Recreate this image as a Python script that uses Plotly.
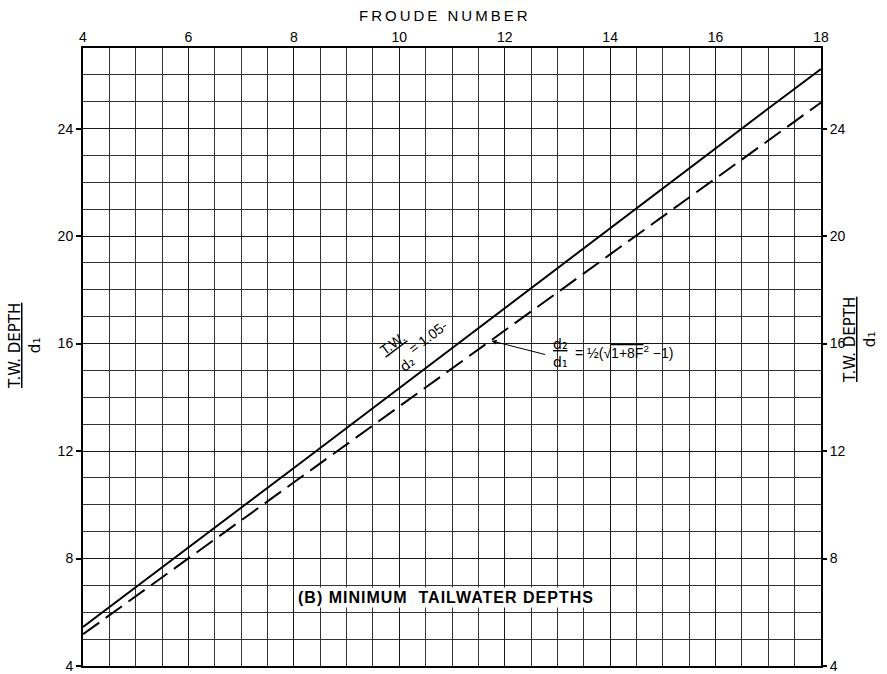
import plotly.graph_objects as go

# Froude number (x) and T.W. depth / d1 (y)
froude = [4, 5, 6, 7, 8, 9, 10, 11, 12, 13, 14, 15, 16, 17, 18]
tw_105_d2 = [5.45, 6.92, 8.41, 9.89, 11.37, 12.86, 14.34, 15.83, 17.32, 18.80, 20.29, 21.78, 23.26, 24.75, 26.22]
conjugate_d2 = [5.18, 6.59, 8.00, 9.42, 10.83, 12.25, 13.66, 15.07, 16.49, 17.90, 19.32, 20.74, 22.15, 23.57, 24.97]

x_ticks = [4, 6, 8, 10, 12, 14, 16, 18]
y_ticks = [4, 8, 12, 16, 20, 24]

FONT = "Liberation Sans, Arial, sans-serif"
SUBFONT = "DejaVu Sans, Liberation Sans, sans-serif"

fig = go.Figure()
fig.add_trace(go.Scatter(x=froude, y=tw_105_d2, mode="lines",
                         line=dict(color="black", width=2), showlegend=False))
fig.add_trace(go.Scatter(x=froude, y=conjugate_d2, mode="lines",
                         line=dict(color="black", width=2, dash="20px,8px"), showlegend=False))
# invisible trace to activate the right axis
fig.add_trace(go.Scatter(x=[froude[0]], y=[conjugate_d2[0]], yaxis="y2", mode="markers",
                         marker=dict(opacity=0), showlegend=False, hoverinfo="skip"))

grid_col = "#1a1a1a"
fig.update_layout(
    width=887, height=674,
    margin=dict(l=83, r=66, t=48, b=8, autoexpand=False),
    paper_bgcolor="white", plot_bgcolor="white",
    font=dict(family=FONT, color="black", size=14),
    xaxis=dict(
        side="top", range=[4, 18], tickvals=x_ticks, automargin=False,
        showgrid=True, gridcolor=grid_col, gridwidth=1.4,
        minor=dict(dtick=0.5, tick0=4, showgrid=True, gridcolor="#333", gridwidth=1.1),
        showline=True, linecolor="black", linewidth=2, mirror=True,
        ticks="", ticklabelstandoff=-2, zeroline=False,
        tickfont=dict(size=14, family=FONT),
    ),
    yaxis=dict(
        range=[4, 27], tickvals=y_ticks, automargin=False,
        showgrid=True, gridcolor=grid_col, gridwidth=1.4,
        minor=dict(dtick=1, tick0=4, showgrid=True, gridcolor="#333", gridwidth=1.1),
        showline=True, linecolor="black", linewidth=2, mirror=True,
        ticks="outside", ticklen=5, tickcolor="black", tickwidth=1.5,
        zeroline=False, tickfont=dict(size=14, family=FONT),
    ),
    yaxis2=dict(
        range=[4, 27], tickvals=y_ticks, overlaying="y", side="right", automargin=False,
        showgrid=False, showline=False, zeroline=False,
        ticks="outside", ticklen=5, tickcolor="black", tickwidth=1.5,
        tickfont=dict(size=14, family=FONT),
    ),
)

ann = []
ann.append(dict(text="<span style='letter-spacing:3px'>FROUDE NUMBER</span>",
                xref="paper", yref="paper", x=0.49, y=1.0, yshift=33, yanchor="middle",
                showarrow=False, font=dict(size=15, family=FONT)))
ann.append(dict(text="<u>T.W. DEPTH</u><br>d₁", textangle=-90,
                xref="paper", yref="paper", x=(25 - 83) / 738, y=(666 - 346) / 618,
                xanchor="center", yanchor="middle", showarrow=False,
                font=dict(size=15, family=SUBFONT)))
ann.append(dict(text="<u>T.W. DEPTH</u><br>d₁", textangle=-90,
                xref="paper", yref="paper", x=(860 - 83) / 738, y=(666 - 340) / 618,
                xanchor="center", yanchor="middle", showarrow=False,
                font=dict(size=15, family=SUBFONT)))
ann.append(dict(text="<b><span style='letter-spacing:1px'>(B) MINIMUM  TAILWATER DEPTHS</span></b>",
                xref="paper", yref="paper", x=(446 - 83) / 738, y=(666 - 608) / 618,
                showarrow=False, bgcolor="white", font=dict(size=16, family=FONT)))
# label for solid line
ann.append(dict(text="<u>T.W.</u>", textangle=-37, xref="paper", yref="paper",
                x=(392 - 83) / 738, y=(666 - 344) / 618, showarrow=False,
                font=dict(size=14, family=FONT)))
ann.append(dict(text="d₂", textangle=-37, xref="paper", yref="paper",
                x=(407 - 83) / 738, y=(666 - 364) / 618, showarrow=False,
                font=dict(size=14, family=SUBFONT)))
ann.append(dict(text="= 1.05-", textangle=-37, xref="paper", yref="paper",
                x=(428 - 83) / 738, y=(666 - 337) / 618, showarrow=False,
                font=dict(size=14, family=FONT)))
# label for dashed line
ann.append(dict(text="<u>d₂</u><br>d₁", xref="paper", yref="paper",
                x=(560 - 83) / 738, y=(666 - 353) / 618, showarrow=False,
                font=dict(size=14, family=SUBFONT)))
ann.append(dict(text="= ½(√<span style='text-decoration:overline'>1+8F<sup>2</sup></span> −1)",
                xref="paper", yref="paper", xanchor="left",
                x=(573 - 83) / 738, y=(666 - 352) / 618, showarrow=False,
                font=dict(size=14, family=FONT)))
ann.append(dict(text="", x=11.75, y=16.1, xref="x", yref="y",
                showarrow=True, arrowhead=2, arrowsize=1, arrowwidth=1, arrowcolor="black",
                ax=55, ay=14))
fig.update_layout(annotations=ann)

fig.write_html("out.html", config={"displayModeBar": False},
               post_script="document.body.style.margin='0';")
